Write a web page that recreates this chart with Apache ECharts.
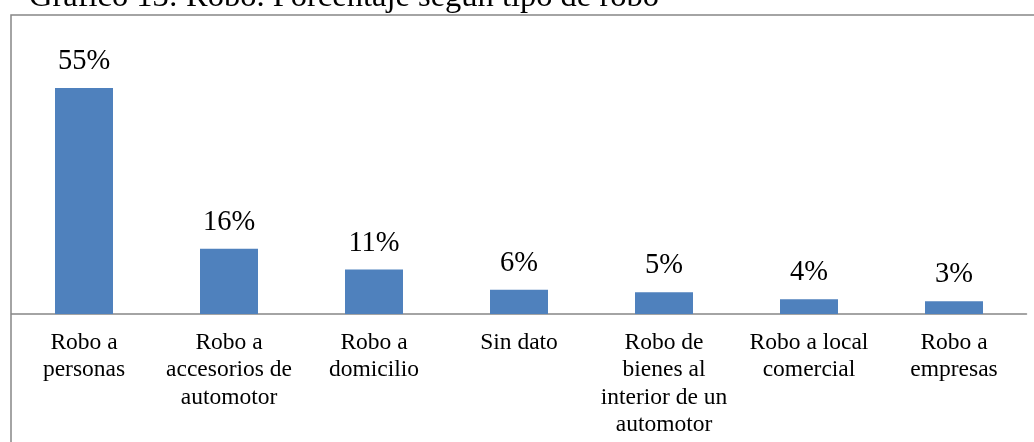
<!DOCTYPE html>
<html>
<head>
<meta charset="utf-8">
<script src="https://cdn.jsdelivr.net/npm/echarts@6/dist/echarts.min.js"></script>
<style>
  html, body { margin: 0; padding: 0; background: #fff; }
  #main { width: 1034px; height: 442px; }
</style>
</head>
<body>
<div id="main"></div>
<script>
var titleText = "Gráfico 13: Robo. Porcentaje según tipo de robo";
var categories = [
  "Robo a\npersonas",
  "Robo a\naccesorios de\nautomotor",
  "Robo a\ndomicilio",
  "Sin dato",
  "Robo de\nbienes al\ninterior de un\nautomotor",
  "Robo a local\ncomercial",
  "Robo a\nempresas"
];
// porcentajes (la etiqueta los muestra redondeados)
var values = [55.0, 15.9, 10.8, 5.9, 5.3, 3.6, 3.1];

var serif = "'Liberation Serif', 'Times New Roman', serif";
var myChart = echarts.init(document.getElementById("main"));
var option = {
  animation: false,
  graphic: [
    {
      // marco del grafico
      type: "rect",
      shape: { x: 11, y: 15, width: 1100, height: 500 },
      style: { fill: "none", stroke: "#878787", lineWidth: 1.5 },
      silent: true
    },
    {
      type: "text",
      left: 29,
      top: -19,
      style: { text: titleText, font: "32.5px " + serif, fill: "#000" }
    }
  ],
  grid: { left: 11.5, right: 7.5, top: 67.4, bottom: 128 },
  xAxis: {
    type: "category",
    data: categories,
    axisTick: { show: false },
    axisLine: { lineStyle: { color: "#868686", width: 1.5 } },
    axisLabel: {
      interval: 0,
      margin: 15,
      fontFamily: serif,
      fontSize: 23.5,
      lineHeight: 27.5,
      color: "#000"
    }
  },
  yAxis: {
    type: "value",
    min: 0,
    max: 60,
    show: false,
    splitLine: { show: false }
  },
  series: [
    {
      type: "bar",
      data: values,
      barCategoryGap: "60%",
      itemStyle: { color: "#4F81BD" },
      label: {
        show: true,
        position: "top",
        distance: 12,
        fontFamily: serif,
        fontSize: 28.5,
        color: "#000",
        formatter: function (p) {
          return Math.round(p.value) + "%";
        }
      }
    }
  ]
};
myChart.setOption(option);
</script>
</body>
</html>
